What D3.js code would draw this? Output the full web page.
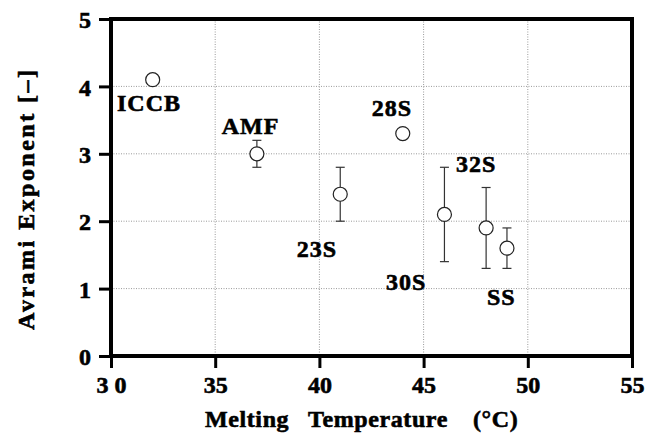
<!DOCTYPE html>
<html>
<head>
<meta charset="utf-8">
<script src="https://cdn.jsdelivr.net/npm/d3@7"></script>
<style>
  html, body { margin: 0; padding: 0; background: #fff; }
  svg { display: block; }
  text { font-family: "Liberation Serif", "Times New Roman", serif; font-weight: 700; fill: #000;
         stroke: #000; stroke-width: 0.6px; }
</style>
</head>
<body>
<svg id="chart" width="647" height="434"></svg>
<script>
// ---- data ----
const temps     = [32, 37, 41, 44, 46, 48, 49];
const exponents = [4.1, 3.0, 2.4, 3.3, 2.1, 1.9, 1.6];
const errLow    = [null, 2.8, 2.0, null, 1.4, 1.3, 1.3];
const errHigh   = [null, 3.2, 2.8, null, 2.8, 2.5, 1.9];

const labelTexts = ["ICCB", "AMF", "28S", "32S", "23S", "30S", "SS"];
const labelX     = [30.29, 35.31, 42.51, 46.55, 38.91, 43.20, 48.04];
const labelY     = [3.63, 3.29, 3.56, 2.73, 1.47, 0.98, 0.76];

const xTicks      = [30, 35, 40, 45, 50, 55];
const xTickLabels = ["3 0", "35", "40", "45", "50", "55"];
const yTicks      = [0, 1, 2, 3, 4, 5];
const yTickLabels = ["0", "1", "2", "3", "4", "5"];

const xTitleWords = ["Melting", "Temperature", "(°C)"];
const yTitle = "Avrami Exponent [–]";

// ---- layout ----
const svg = d3.select("#chart");
const x = d3.scaleLinear().domain([30, 55]).range([111, 632]);
const y = d3.scaleLinear().domain([0, 5]).range([356, 19]);

svg.append("rect").attr("width", 647).attr("height", 434).attr("fill", "#fff");

// gridlines
const grid = svg.append("g").attr("stroke", "#9a9a9a").attr("stroke-width", 1)
  .attr("stroke-dasharray", "1,1.5");
grid.selectAll("line.v").data(xTicks.filter(d => d > 30 && d < 55)).join("line")
  .attr("x1", d => x(d)).attr("x2", d => x(d)).attr("y1", y(5)).attr("y2", y(0));
grid.selectAll("line.h").data(yTicks.filter(d => d > 0 && d < 5)).join("line")
  .attr("x1", x(30)).attr("x2", x(55)).attr("y1", d => y(d)).attr("y2", d => y(d));

// axes
const xAxis = svg.append("g").attr("transform", `translate(0,${y(0)})`)
  .call(d3.axisBottom(x).tickValues(xTicks).tickSize(12).tickFormat((d, i) => xTickLabels[i]));
xAxis.select(".domain").remove();
xAxis.selectAll(".tick line").attr("stroke", "#000").attr("stroke-width", 3);
xAxis.selectAll(".tick text").attr("y", 37).attr("dy", 0)
  .style("font-size", "24px");

const yAxis = svg.append("g").attr("transform", `translate(${x(30)},0)`)
  .call(d3.axisLeft(y).tickValues(yTicks).tickSize(12).tickFormat((d, i) => yTickLabels[i]));
yAxis.select(".domain").remove();
yAxis.selectAll(".tick line").attr("stroke", "#000").attr("stroke-width", 3);
yAxis.selectAll(".tick text").attr("x", -20).attr("dy", "0.36em")
  .style("font-size", "24px");

// frame
svg.append("rect")
  .attr("x", x(30)).attr("y", y(5))
  .attr("width", x(55) - x(30)).attr("height", y(0) - y(5))
  .attr("fill", "none").attr("stroke", "#000").attr("stroke-width", 4);

// error bars
const pts = temps.map((t, i) => ({ t, v: exponents[i], lo: errLow[i], hi: errHigh[i] }));
const eb = svg.append("g").attr("stroke", "#333").attr("stroke-width", 1.2);
pts.filter(p => p.lo != null).forEach(p => {
  eb.append("line").attr("x1", x(p.t)).attr("x2", x(p.t)).attr("y1", y(p.lo)).attr("y2", y(p.hi));
  eb.append("line").attr("x1", x(p.t) - 4.5).attr("x2", x(p.t) + 4.5).attr("y1", y(p.lo)).attr("y2", y(p.lo));
  eb.append("line").attr("x1", x(p.t) - 4.5).attr("x2", x(p.t) + 4.5).attr("y1", y(p.hi)).attr("y2", y(p.hi));
});

// points
svg.append("g").selectAll("circle").data(pts).join("circle")
  .attr("cx", d => x(d.t)).attr("cy", d => y(d.v)).attr("r", 7)
  .attr("fill", "#fff").attr("stroke", "#222").attr("stroke-width", 1.2);

// labels
svg.append("g").selectAll("text").data(labelTexts).join("text")
  .attr("x", (d, i) => x(labelX[i])).attr("y", (d, i) => y(labelY[i]))
  .style("font-size", "24px").style("letter-spacing", "1px")
  .text(d => d);

// titles
const xt = svg.append("text").attr("y", 427).style("font-size", "24px").style("letter-spacing", "0.6px");
const xWordPos = [205, 308, 473];
xt.selectAll("tspan").data(xTitleWords).join("tspan")
  .attr("x", (d, i) => xWordPos[i]).text(d => d);

svg.append("text").attr("transform", "translate(34,200) rotate(-90)").attr("text-anchor", "middle")
  .attr("textLength", 260).attr("lengthAdjust", "spacing")
  .style("font-size", "24px").text(yTitle);
</script>
</body>
</html>
